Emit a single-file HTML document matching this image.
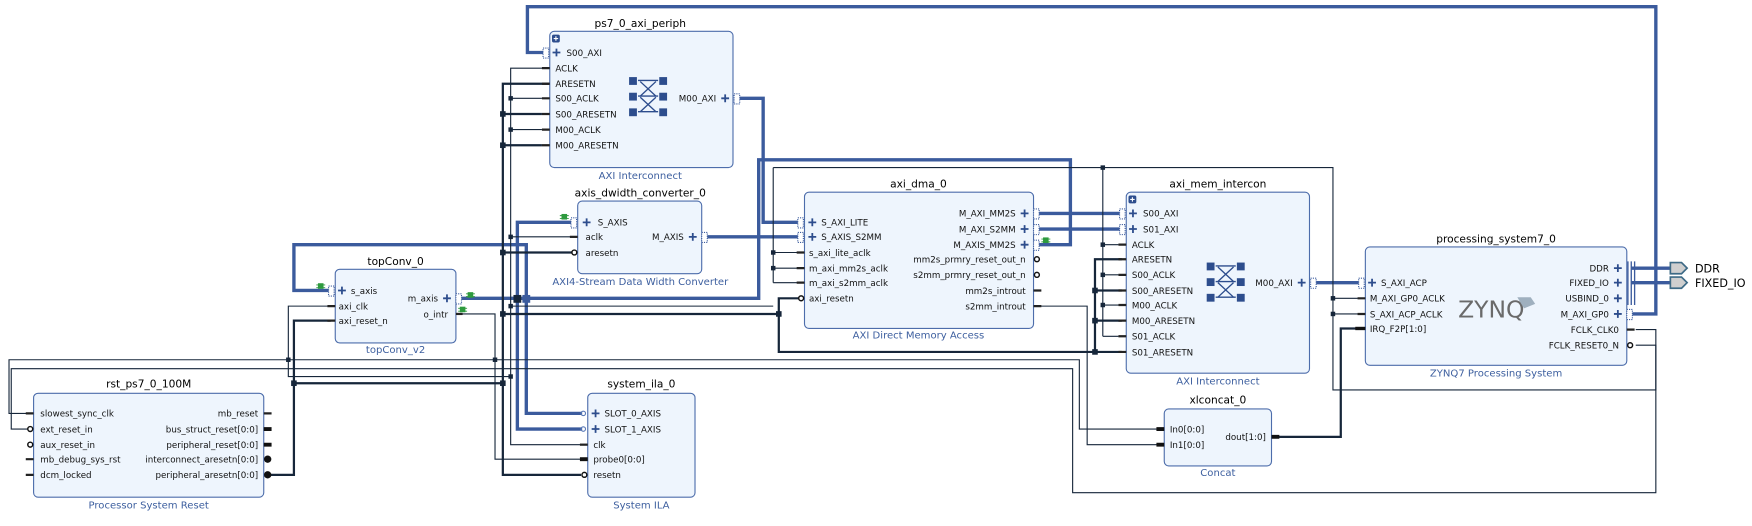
<!DOCTYPE html>
<html><head><meta charset="utf-8"><style>
html,body{margin:0;padding:0;background:#fff;}
svg{display:block;}
text{font-family:"DejaVu Sans","Liberation Sans",sans-serif;}
.b{fill:#eef5fd;stroke:#4d6dab;stroke-width:1;}
.t{font-size:9.5px;fill:#000;text-anchor:middle;}
.s{font-size:9px;fill:#3d5f9f;text-anchor:middle;}
.p{font-size:7.8px;fill:#111;}
.r{text-anchor:end;}
.w{fill:none;stroke:#16263a;stroke-width:1;}
.m{fill:none;stroke:#16263a;stroke-width:2;}
.bus{fill:none;stroke:#3b5b9d;stroke-width:3;}
.st{stroke:#222;stroke-width:2;}
.j{fill:#16263a;}
.bm{fill:#fff;stroke:#3b5b9d;stroke-width:1;stroke-dasharray:1 1;}
.oc{fill:#fff;stroke:#111;stroke-width:1.3;}
</style></head><body>
<svg width="1752" height="526" viewBox="0 0 1568 470.8" xmlns="http://www.w3.org/2000/svg">
<defs>
<symbol id="pl" overflow="visible"><path d="M-3.5 0H3.5M0 -3.5V3.5" stroke="#2d4d8d" stroke-width="1.6"/></symbol>
<symbol id="ic" overflow="visible">
<rect x="0" y="0" width="7" height="7" fill="#2d4d8d"/><rect x="27" y="0" width="7" height="7" fill="#2d4d8d"/>
<rect x="0" y="14" width="7" height="7" fill="#2d4d8d"/><rect x="27" y="14" width="7" height="7" fill="#2d4d8d"/>
<rect x="0" y="28" width="7" height="7" fill="#2d4d8d"/><rect x="27" y="28" width="7" height="7" fill="#2d4d8d"/>
<path d="M8 3H26M8 17H26M8 31H26M10 4L24 17M24 4L10 17M10 18L24 31M24 18L10 31" stroke="#2d4d8d" stroke-width="1.2" fill="none"/>
</symbol>
<symbol id="bg" overflow="visible"><rect x="-2.5" y="-2.5" width="5" height="5" fill="#2e9a3e"/><path d="M-4 -1H4M-4 1.5H4" stroke="#2e9a3e" stroke-width="0.8"/></symbol>
</defs>

<!-- ===== BUS WIRES ===== -->
<path class="bus" d="M1460 281H1482V6H472V47H487"/>
<path class="bus" d="M662 88H683V199H716"/>
<path class="bus" d="M628 212H716"/>
<path class="bus" d="M929 191H1004M929 205H1004"/>
<path class="bus" d="M929 219H958V143H679V267H412"/>
<path class="bus" d="M296 260H263V219H471V370H521"/>
<path class="bus" d="M512 199H463V384H521"/>
<path class="bus" d="M1176 253H1218"/>
<path class="bus" d="M1460 240H1495M1460 253H1495"/>
<rect class="j" x="459.5" y="264" width="7" height="7" fill="#3b5b9d"/><rect x="467.5" y="264" width="7" height="7" fill="#3b5b9d"/>

<!-- ===== THIN WIRES ===== -->
<path class="w" d="M492 61H457V398H521"/>
<path class="w" d="M457 88H485M457 116H485M457 212H512"/>
<path class="w" d="M457 274H692M692 150V253M692 150H1193V349H1482V295H1464M692 226H714M692 240H714M692 253H714"/>
<path class="w" d="M987 150V301M987 219H1001M987 246H1001M987 273H1001M987 301H1001"/>
<path class="w" d="M1193 267H1215M1193 281H1215"/>
<path class="w" d="M296 274H258V337H457"/>
<path class="w" d="M25 370H8V322H966V384H1036"/>
<path class="w" d="M412 281H443V411H520"/>
<path class="w" d="M1464 309H1482V441H960V330H10V384H25"/>
<path class="w" d="M929 274H973V398H1036"/>

<!-- ===== MEDIUM WIRES ===== -->
<path class="m" d="M492 75H450V425H520M450 102H485M450 130H485M450 226H512M450 281H697M450 343H263"/>
<path class="m" d="M240 425H263V287H296"/>
<path class="m" d="M716 267H697V315H1004"/>
<path class="m" d="M1004 232H980V315M980 260H1004M980 287H1004"/>
<path class="m" d="M1142 391H1200V294H1218"/>

<!-- junctions -->
<g class="j">
<rect x="455" y="86" width="4" height="4"/><rect x="455" y="114" width="4" height="4"/><rect x="455" y="210" width="4" height="4"/><rect x="455" y="272" width="4" height="4"/><rect x="455" y="335" width="4" height="4"/>
<rect x="447.5" y="99.5" width="5" height="5"/><rect x="447.5" y="127.5" width="5" height="5"/><rect x="447.5" y="223.5" width="5" height="5"/><rect x="447.5" y="278.5" width="5" height="5"/><rect x="447.5" y="340.5" width="5" height="5"/>
<rect x="690" y="224" width="4" height="4"/><rect x="690" y="238" width="4" height="4"/><rect x="694.5" y="278.5" width="5" height="5"/>
<rect x="985" y="148" width="4" height="4"/><rect x="985" y="217" width="4" height="4"/><rect x="985" y="244" width="4" height="4"/><rect x="985" y="271" width="4" height="4"/>
<rect x="977.5" y="257.5" width="5" height="5"/><rect x="977.5" y="284.5" width="5" height="5"/><rect x="977.5" y="312.5" width="5" height="5"/>
<rect x="1191" y="265" width="4" height="4"/><rect x="1191" y="279" width="4" height="4"/>
<rect x="256" y="320" width="4" height="4"/><rect x="441" y="320" width="4" height="4"/><rect x="260.5" y="340.5" width="5" height="5"/>
</g>

<!-- ===== ps7_0_axi_periph ===== -->
<text class="t" x="573" y="24">ps7_0_axi_periph</text>
<rect class="b" x="492" y="28" width="164" height="122" rx="4"/>
<rect x="494" y="31" width="7" height="7" rx="1.5" fill="#2d4d8d"/><path d="M497.5 32.5V36.5M495.5 34.5H499.5" stroke="#fff" stroke-width="1"/>
<rect class="bm" x="486" y="43" width="5" height="9"/><use href="#pl" x="498" y="47"/>
<text class="p" x="507" y="50">S00_AXI</text>
<g class="st"><path d="M485 61H492M485 75H492M485 88H492M485 102H492M485 116H492M485 130H492"/></g>
<text class="p" x="497" y="64">ACLK</text><text class="p" x="497" y="78">ARESETN</text><text class="p" x="497" y="91">S00_ACLK</text>
<text class="p" x="497" y="105">S00_ARESETN</text><text class="p" x="497" y="119">M00_ACLK</text><text class="p" x="497" y="133">M00_ARESETN</text>
<use href="#ic" x="563" y="69"/>
<text class="p r" x="641" y="91">M00_AXI</text><use href="#pl" x="649" y="88"/><rect class="bm" x="657" y="84" width="5" height="9"/>
<text class="s" x="573" y="160">AXI Interconnect</text>

<!-- ===== axis_dwidth_converter_0 ===== -->
<text class="t" x="573" y="176">axis_dwidth_converter_0</text>
<rect class="b" x="517" y="180" width="111" height="65" rx="4"/>
<use href="#bg" x="505" y="194"/>
<rect class="bm" x="511" y="195" width="5" height="9"/><use href="#pl" x="525" y="199"/><text class="p" x="535" y="202">S_AXIS</text>
<path class="st" d="M510 212H517"/><text class="p" x="524" y="215">aclk</text>
<circle class="oc" cx="514" cy="226" r="2.2"/><text class="p" x="524" y="229">aresetn</text>
<text class="p r" x="612" y="215">M_AXIS</text><use href="#pl" x="620" y="212"/><rect class="bm" x="628" y="208" width="5" height="9"/>
<text class="s" x="573" y="255">AXI4-Stream Data Width Converter</text>

<!-- ===== axi_dma_0 ===== -->
<text class="t" x="822" y="168">axi_dma_0</text>
<rect class="b" x="720" y="172" width="205" height="122" rx="4"/>
<rect class="bm" x="714" y="195" width="5" height="9"/><use href="#pl" x="727" y="199"/><text class="p" x="735" y="202">S_AXI_LITE</text>
<rect class="bm" x="714" y="208" width="5" height="9"/><use href="#pl" x="727" y="212"/><text class="p" x="735" y="215">S_AXIS_S2MM</text>
<path class="st" d="M713 226H720M713 240H720M713 253H720"/>
<text class="p" x="724" y="229">s_axi_lite_aclk</text><text class="p" x="724" y="243">m_axi_mm2s_aclk</text><text class="p" x="724" y="256">m_axi_s2mm_aclk</text>
<circle class="oc" cx="717" cy="267" r="2.2"/><text class="p" x="724" y="270">axi_resetn</text>
<text class="p r" x="909" y="194">M_AXI_MM2S</text><use href="#pl" x="917" y="191"/><rect class="bm" x="925" y="187" width="5" height="9"/>
<text class="p r" x="909" y="208">M_AXI_S2MM</text><use href="#pl" x="917" y="205"/><rect class="bm" x="925" y="201" width="5" height="9"/>
<text class="p r" x="909" y="222">M_AXIS_MM2S</text><use href="#pl" x="917" y="219"/><rect class="bm" x="925" y="215" width="5" height="9"/>
<use href="#bg" x="936" y="215"/>
<text class="p r" x="918" y="235">mm2s_prmry_reset_out_n</text><circle class="oc" cx="928" cy="232" r="2.2"/>
<text class="p r" x="918" y="249">s2mm_prmry_reset_out_n</text><circle class="oc" cx="928" cy="246" r="2.2"/>
<text class="p r" x="918" y="263">mm2s_introut</text><path class="st" d="M925 260H932M925 274H932"/>
<text class="p r" x="918" y="277">s2mm_introut</text>
<text class="s" x="822" y="303">AXI Direct Memory Access</text>

<!-- ===== axi_mem_intercon ===== -->
<text class="t" x="1090" y="168">axi_mem_intercon</text>
<rect class="b" x="1008" y="172" width="164" height="162" rx="4"/>
<rect x="1010" y="175" width="7" height="7" rx="1.5" fill="#2d4d8d"/><path d="M1013.5 176.5V180.5M1011.5 178.5H1015.5" stroke="#fff" stroke-width="1"/>
<rect class="bm" x="1002" y="187" width="5" height="9"/><use href="#pl" x="1014" y="191"/><text class="p" x="1023" y="194">S00_AXI</text>
<rect class="bm" x="1002" y="201" width="5" height="9"/><use href="#pl" x="1014" y="205"/><text class="p" x="1023" y="208">S01_AXI</text>
<path class="st" d="M1001 219H1008M1001 232H1008M1001 246H1008M1001 260H1008M1001 273H1008M1001 287H1008M1001 301H1008M1001 315H1008"/>
<text class="p" x="1013" y="222">ACLK</text><text class="p" x="1013" y="235">ARESETN</text><text class="p" x="1013" y="249">S00_ACLK</text>
<text class="p" x="1013" y="263">S00_ARESETN</text><text class="p" x="1013" y="276">M00_ACLK</text><text class="p" x="1013" y="290">M00_ARESETN</text>
<text class="p" x="1013" y="304">S01_ACLK</text><text class="p" x="1013" y="318">S01_ARESETN</text>
<use href="#ic" x="1080" y="235"/>
<text class="p r" x="1157" y="256">M00_AXI</text><use href="#pl" x="1165" y="253"/><rect class="bm" x="1173" y="249" width="5" height="9"/>
<text class="s" x="1090" y="344">AXI Interconnect</text>

<!-- ===== processing_system7_0 ===== -->
<text class="t" x="1339" y="217">processing_system7_0</text>
<rect class="b" x="1222" y="221" width="234" height="106" rx="4"/>
<rect class="bm" x="1216" y="249" width="5" height="9"/><use href="#pl" x="1228" y="253"/><text class="p" x="1236" y="256">S_AXI_ACP</text>
<path class="st" d="M1215 267H1222M1215 281H1222"/><path d="M1213 294H1222" stroke="#111" stroke-width="3"/>
<text class="p" x="1226" y="270">M_AXI_GP0_ACLK</text><text class="p" x="1226" y="284">S_AXI_ACP_ACLK</text><text class="p" x="1226" y="297">IRQ_F2P[1:0]</text>
<text x="1305" y="284" font-size="21" fill="#6a6a6a" font-family="Liberation Sans, sans-serif">ZYNQ</text>
<path d="M1358 266L1370 266L1374 272L1364 276Z" fill="#9fb0bf"/>
<text class="p r" x="1440" y="243">DDR</text><use href="#pl" x="1448" y="240"/>
<text class="p r" x="1440" y="256">FIXED_IO</text><use href="#pl" x="1448" y="253"/>
<text class="p r" x="1440" y="270">USBIND_0</text><use href="#pl" x="1448" y="267"/>
<text class="p r" x="1440" y="284">M_AXI_GP0</text><use href="#pl" x="1448" y="281"/>
<path d="M1457 234V273M1460 234V273M1463 234V273" stroke="#3b5b9d" stroke-width="1.2"/>
<rect class="bm" x="1456" y="277" width="5" height="9"/>
<text class="p r" x="1449" y="298">FCLK_CLK0</text><path class="st" d="M1456 295H1463"/>
<text class="p r" x="1449" y="312">FCLK_RESET0_N</text><circle class="oc" cx="1459" cy="309" r="2.2"/>
<text class="s" x="1339" y="337">ZYNQ7 Processing System</text>
<path d="M1495 235H1505L1510 240L1505 245H1495Z" fill="#cfcfcf" stroke="#3d6a86" stroke-width="1.5"/>
<path d="M1495 248H1505L1510 253L1505 258H1495Z" fill="#cfcfcf" stroke="#3d6a86" stroke-width="1.5"/>
<text x="1517" y="244" font-size="10" fill="#000">DDR</text>
<text x="1517" y="257" font-size="10" fill="#000">FIXED_IO</text>

<!-- ===== topConv_0 ===== -->
<text class="t" x="354" y="237">topConv_0</text>
<rect class="b" x="300" y="241" width="108" height="66" rx="4"/>
<use href="#bg" x="287" y="256"/>
<rect class="bm" x="294" y="256" width="5" height="9"/><use href="#pl" x="306" y="260"/><text class="p" x="314" y="263">s_axis</text>
<path class="st" d="M293 274H300M293 287H300"/>
<text class="p" x="303" y="277">axi_clk</text><text class="p" x="303" y="290">axi_reset_n</text>
<text class="p r" x="392" y="270">m_axis</text><use href="#pl" x="400" y="267"/><rect class="bm" x="408" y="263" width="5" height="9"/>
<use href="#bg" x="421" y="264"/>
<text class="p r" x="401" y="284">o_intr</text><path class="st" d="M408 281H414"/><use href="#bg" x="414" y="277"/>
<text class="s" x="354" y="316">topConv_v2</text>

<!-- ===== rst_ps7_0_100M ===== -->
<text class="t" x="133" y="347">rst_ps7_0_100M</text>
<rect class="b" x="30" y="352" width="206" height="93" rx="4"/>
<path class="st" d="M23 370H30M23 411H30M23 425H30"/>
<circle class="oc" cx="27" cy="384" r="2.2"/><circle class="oc" cx="27" cy="398" r="2.2"/>
<text class="p" x="36" y="373">slowest_sync_clk</text><text class="p" x="36" y="387">ext_reset_in</text><text class="p" x="36" y="401">aux_reset_in</text>
<text class="p" x="36" y="414">mb_debug_sys_rst</text><text class="p" x="36" y="428">dcm_locked</text>
<text class="p r" x="231" y="373">mb_reset</text><text class="p r" x="231" y="387">bus_struct_reset[0:0]</text><text class="p r" x="231" y="401">peripheral_reset[0:0]</text>
<text class="p r" x="231" y="414">interconnect_aresetn[0:0]</text><text class="p r" x="231" y="428">peripheral_aresetn[0:0]</text>
<path class="st" d="M236 370H243"/><path d="M236 384H243M236 398H243" stroke="#111" stroke-width="3.5"/>
<circle cx="239.5" cy="411" r="3.3" fill="#111"/><circle cx="239.5" cy="425" r="3.3" fill="#111"/>
<text class="s" x="133" y="455">Processor System Reset</text>

<!-- ===== system_ila_0 ===== -->
<text class="t" x="574" y="347">system_ila_0</text>
<rect class="b" x="526" y="352" width="96" height="93" rx="4"/>
<circle cx="522" cy="370" r="2" fill="none" stroke="#5a7ab8" stroke-width="1"/><use href="#pl" x="533" y="370"/><text class="p" x="541" y="373">SLOT_0_AXIS</text>
<circle cx="522" cy="384" r="2" fill="none" stroke="#5a7ab8" stroke-width="1"/><use href="#pl" x="533" y="384"/><text class="p" x="541" y="387">SLOT_1_AXIS</text>
<path class="st" d="M519 398H526"/><path d="M519 411H526" stroke="#111" stroke-width="3.5"/>
<circle class="oc" cx="523" cy="425" r="2.2"/>
<text class="p" x="531" y="401">clk</text><text class="p" x="531" y="414">probe0[0:0]</text><text class="p" x="531" y="428">resetn</text>
<text class="s" x="574" y="455">System ILA</text>

<!-- ===== xlconcat_0 ===== -->
<text class="t" x="1090" y="361">xlconcat_0</text>
<rect class="b" x="1042" y="366" width="96" height="51" rx="4"/>
<path d="M1035 384H1042M1035 398H1042M1138 391H1145" stroke="#111" stroke-width="3.5"/>
<text class="p" x="1047" y="387">In0[0:0]</text><text class="p" x="1047" y="401">In1[0:0]</text>
<text class="p r" x="1133" y="394">dout[1:0]</text>
<text class="s" x="1090" y="426">Concat</text>
</svg>
</body></html>
